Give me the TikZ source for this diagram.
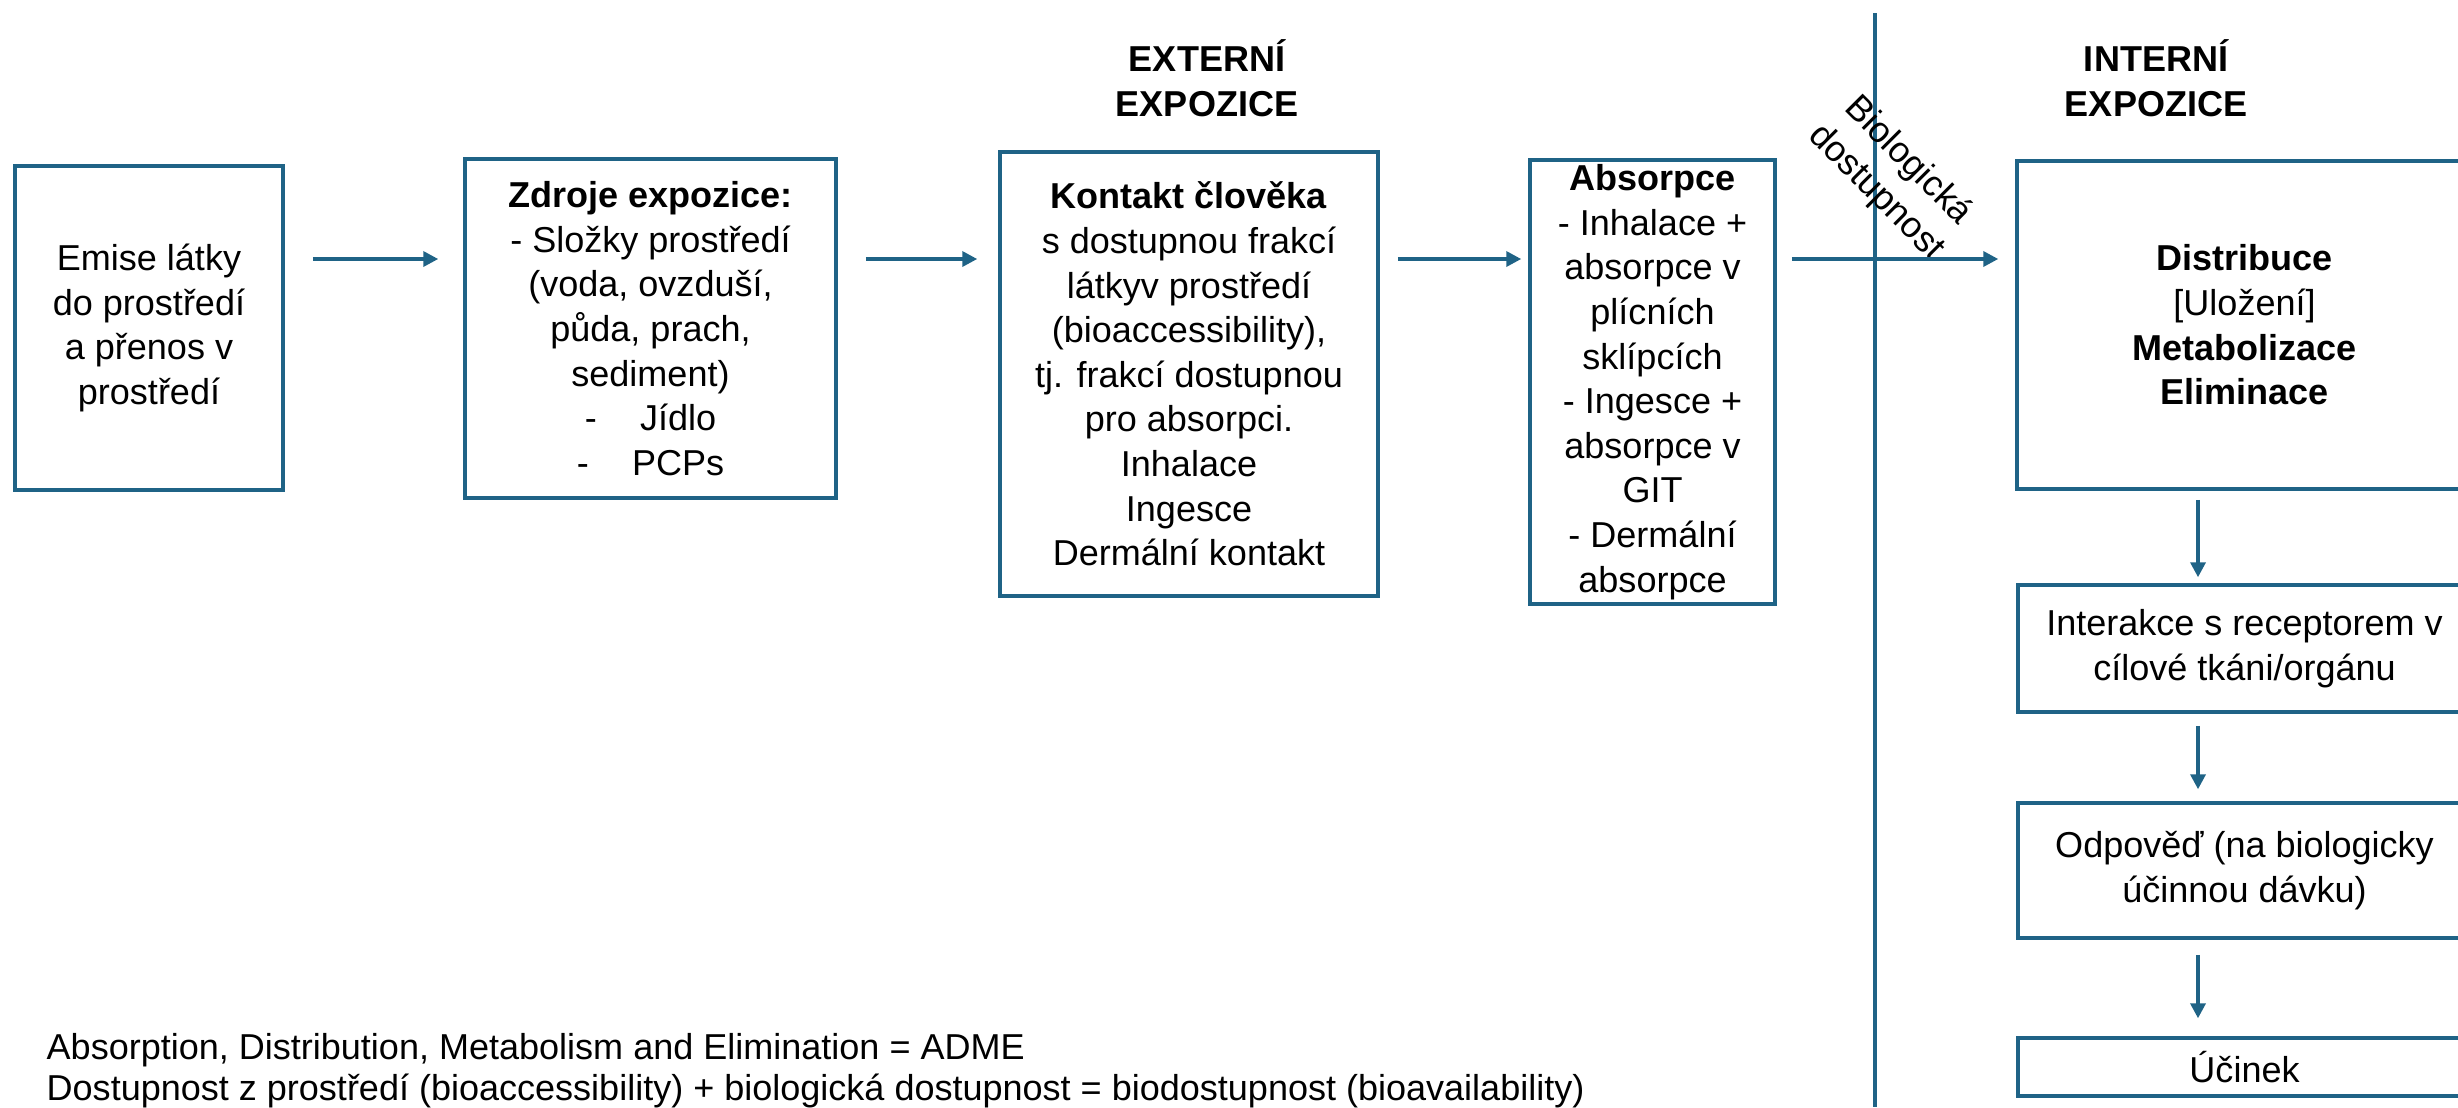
\documentclass[tikz,border=0pt]{standalone}
\usepackage{fontspec}
\setmainfont{Liberation Sans}
\usepackage{tikz}
\usetikzlibrary{arrows.meta,positioning,calc}
\definecolor{flowblue}{RGB}{31,99,134}
\newcommand{\boxfont}{\fontsize{10.25pt}{12.7pt}\selectfont}

\begin{document}
\begin{tikzpicture}[x=0.1mm, y=-0.1mm, font=\boxfont,
    >={Triangle[length=1.5mm,width=1.5mm]},
    box/.style={rectangle, draw=flowblue, line width=1pt, inner sep=0pt, align=center},
    title/.style={font=\boxfont\bfseries, align=center, inner sep=0pt},
    flow/.style={->, line width=1pt, color=flowblue}]
    \clip (0,0) rectangle (2458,1107);

    % Externi expozice
    \node[title] (ext_title) at (1207,78) {EXTERNÍ\\EXPOZICE};
    \node[box, minimum width=26.8mm, minimum height=32.4mm] (emise) at (149,328) {Emise látky\\do prostředí\\a přenos v\\prostředí};
    \node[box, minimum width=37.1mm, minimum height=33.9mm] (zdroje) at (650.5,328.5) {\textbf{Zdroje expozice:}\\- Složky prostředí\\(voda, ovzduší,\\půda, prach,\\sediment)\\-\hspace{1.2em}Jídlo\\-\hspace{1.2em}PCPs};
    \node[box, minimum width=37.8mm, minimum height=44.4mm] (kontakt) at (1189,374) {\textbf{Kontakt člověka}\\s dostupnou frakcí\\látkyv prostředí\\(bioaccessibility),\\tj. frakcí dostupnou\\pro absorpci.\\Inhalace\\Ingesce\\Dermální kontakt};
    \node[box, minimum width=24.5mm, minimum height=44.4mm] (absorpce) at (1652.5,382) {\textbf{Absorpce}\\- Inhalace +\\absorpce v\\plícních\\sklípcích\\- Ingesce +\\absorpce v\\GIT\\- Dermální\\absorpce};

    % Hranice
    \draw[flowblue, line width=1pt] (1875,13) -- (1875,1107);
    \node[rotate=-45, align=center, inner sep=0pt] (bio_label) at (1892,177) {Biologická\\dostupnost};

    % Interni expozice
    \node[title] (int_title) at (2156,78) {INTERNÍ\\EXPOZICE};
    \node[box, minimum width=45.5mm, minimum height=32.8mm] (distribuce) at (2244.5,325) {\textbf{Distribuce}\\{[}Uložení{]}\\\textbf{Metabolizace}\\\textbf{Eliminace}};
    \node[box, minimum width=45.3mm, minimum height=12.7mm, below=9.25mm of distribuce] (interakce) {Interakce s receptorem v\\cílové tkáni/orgánu};
    \node[box, minimum width=45.3mm, minimum height=13.5mm, below=8.75mm of interakce] (odpoved) {Odpověď (na biologicky\\účinnou dávku)};
    \node[box, minimum width=45.3mm, minimum height=5.8mm, below=9.65mm of odpoved] (ucinek) {Účinek};

    % Poznamky
    \node[anchor=base west, inner sep=0pt] (note_adme) at (46,1059) {Absorption, Distribution, Metabolism and Elimination = ADME};
    \node[anchor=base west, inner sep=0pt] (note_bio) at (46,1100) {Dostupnost z prostředí (bioaccessibility) + biologická dostupnost = biodostupnost (bioavailability)};

    % Sipky
    \coordinate (lvl) at (0,259);
    \coordinate (col) at (2198,0);
    \draw[flow, shorten <=2.8mm, shorten >=2.5mm] (emise.east |- lvl) -- (zdroje.west |- lvl);
    \draw[flow, shorten <=2.8mm, shorten >=2.1mm] (zdroje.east |- lvl) -- (kontakt.west |- lvl);
    \draw[flow, shorten <=1.8mm, shorten >=0.7mm] (kontakt.east |- lvl) -- (absorpce.west |- lvl);
    \draw[flow, shorten <=1.5mm, shorten >=1.7mm] (absorpce.east |- lvl) -- (distribuce.west |- lvl);
    \draw[flow, shorten <=0.9mm, shorten >=0.6mm] (distribuce.south -| col) -- (interakce.north -| col);
    \draw[flow, shorten <=1.2mm, shorten >=1.2mm] (interakce.south -| col) -- (odpoved.north -| col);
    \draw[flow, shorten <=1.5mm, shorten >=1.8mm] (odpoved.south -| col) -- (ucinek.north -| col);
\end{tikzpicture}
\end{document}
